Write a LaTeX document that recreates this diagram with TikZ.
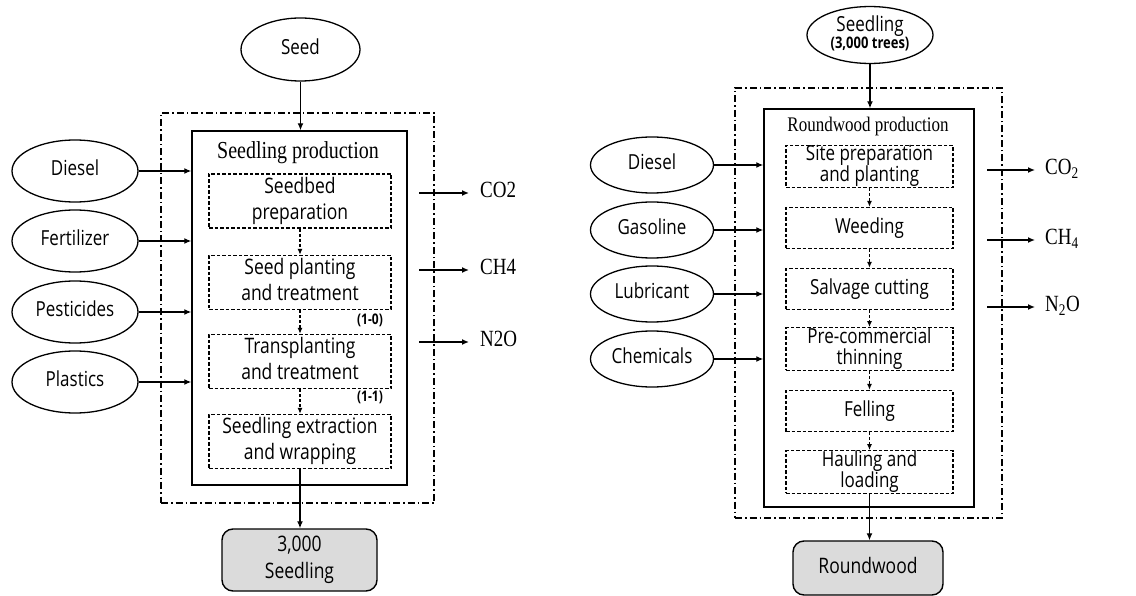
\documentclass[tikz,border=0pt]{standalone}
\usepackage{fontspec}
\usepackage{graphicx}
\setmainfont{Liberation Serif}
\setsansfont{Open Sans}
\usetikzlibrary{arrows.meta,shapes.geometric}
\newcommand\vt[1]{\scalebox{1}[1.22]{\begin{tabular}{@{}c@{}}#1\end{tabular}}}
\tikzset{
  src/.style={ellipse, draw, line width=1.3pt, inner sep=0pt, font=\sffamily\fontsize{17}{19}\selectfont},
  stepL/.style={draw, dash pattern=on 3.5pt off 2pt, line width=1.3pt, inner sep=0pt, minimum width=182pt, minimum height=54pt, align=center, font=\sffamily\fontsize{17.5}{21.5}\selectfont},
  stepR/.style={draw, dash pattern=on 3.5pt off 2pt, line width=1.3pt, inner sep=0pt, minimum width=167pt, minimum height=41pt, align=center, font=\sffamily\fontsize{17}{15}\selectfont},
  procbox/.style={draw, line width=1.4pt, inner sep=0pt},
  framebox/.style={draw, dash pattern=on 7pt off 3pt on 1.5pt off 3pt, line width=1.2pt, inner sep=0pt},
  arr/.style={-{Latex[length=7pt,width=6pt]}, line width=1.3pt},
  darr/.style={-{Latex[length=6pt,width=5pt]}, line width=1.2pt, dash pattern=on 3pt off 2pt},
  outbox/.style={draw, rounded corners=11pt, fill=gray!28, line width=1.4pt, inner sep=0pt, align=center, font=\sffamily\fontsize{17.5}{22}\selectfont},
  emis/.style={anchor=west, inner sep=0pt, font=\fontsize{19}{20}\selectfont},
  ttl/.style={inner sep=0pt, font=\fontsize{20}{20}\selectfont},
  tag/.style={inner sep=0pt, font=\sffamily\bfseries\fontsize{12}{12}\selectfont}
}
\begin{document}
\begin{tikzpicture}[x=1pt,y=-1pt]
\useasboundingbox (0,0) rectangle (1136,596);
% ---------------- Left diagram ----------------
\node[framebox, minimum width=273pt, minimum height=390pt] (frL) at (297.5,308) {};
\node[procbox, minimum width=215pt, minimum height=354pt] (inL) at (299.5,308) {};
\node[ttl] (tL) at (298,154) {\vt{Seedling production}};
\node[src, minimum width=119pt, minimum height=63pt] (seed) at (300.5,49.5) {\vt{Seed}};
\node[src, minimum width=126pt, minimum height=62pt] (dL) at (75,171) {\vt{Diesel}};
\node[src, minimum width=126pt, minimum height=62pt] (fL) at (75,241) {\vt{Fertilizer}};
\node[src, minimum width=126pt, minimum height=62pt] (pL) at (75,312) {\vt{Pesticides}};
\node[src, minimum width=126pt, minimum height=62pt] (plL) at (75,382) {\vt{Plastics}};
\node[stepL] (s1) at (300,201) {\vt{Seedbed\\preparation}};
\node[stepL] (s2) at (300,282.5) {\vt{Seed planting\\and treatment}};
\node[stepL] (s3) at (300,361.5) {\vt{Transplanting\\and treatment}};
\node[stepL] (s4) at (300,441.5) {\vt{Seedling extraction\\and wrapping}};
\node[tag] (t10) at (370,321) {\vt{(1-0)}};
\node[tag] (t11) at (370,398) {\vt{(1-1)}};
\node[outbox, minimum width=155pt, minimum height=62pt] (outL) at (299.5,560) {\vt{3,000\\Seedling}};
\draw[arr] (seed.south) -- (seed.south |- inL.north);
\foreach \n in {dL,fL,pL,plL} \draw[arr] (\n.east) -- (\n.east -| inL.west);
\draw[darr] (s1.south) -- (s2.north);
\draw[darr] (s2.south) -- (s3.north);
\draw[darr] (s3.south) -- (s4.north);
\draw[arr] (s4.south) -- (s4.south |- outL.north);
\node[emis] (co2L) at (480,193) {\vt{CO2}};
\node[emis] (ch4L) at (480,270) {\vt{CH4}};
\node[emis] (n2oL) at (480,342) {\vt{N2O}};
\coordinate (eL1) at (419,193);
\coordinate (eL2) at (419,270);
\coordinate (eL3) at (419,342);
\draw[arr] (eL1) -- ([xshift=-11pt]co2L.west);
\draw[arr] (eL2) -- ([xshift=-11pt]ch4L.west);
\draw[arr] (eL3) -- ([xshift=-11pt]n2oL.west);
% ---------------- Right diagram ----------------
\node[framebox, minimum width=267pt, minimum height=430pt] (frR) at (868.5,303) {};
\node[procbox, minimum width=210pt, minimum height=398pt] (inR) at (869,308) {};
\node[ttl, font=\fontsize{17}{18}\selectfont] (tR) at (868,127) {\vt{Roundwood production}};
\node[src, minimum width=126pt, minimum height=56pt, align=center] (sdl) at (870,35) {\vt{Seedling\\[-5pt]{\bfseries\fontsize{13}{13}\selectfont (3,000 trees)}}};
\node[src, minimum width=123pt, minimum height=56pt] (dR) at (652,165) {\vt{Diesel}};
\node[src, minimum width=123pt, minimum height=56pt] (gR) at (652,230) {\vt{Gasoline}};
\node[src, minimum width=123pt, minimum height=56pt] (lR) at (652,294) {\vt{Lubricant}};
\node[src, minimum width=123pt, minimum height=56pt] (cR) at (652,359) {\vt{Chemicals}};
\node[stepR] (r1) at (869.5,166.5) {\vt{Site preparation\\and planting}};
\node[stepR] (r2) at (869.5,228) {\vt{Weeding}};
\node[stepR] (r3) at (869.5,289) {\vt{Salvage cutting}};
\node[stepR] (r4) at (869.5,349) {\vt{Pre-commercial\\thinning}};
\node[stepR] (r5) at (869.5,411) {\vt{Felling}};
\node[stepR] (r6) at (869.5,472) {\vt{Hauling and\\loading}};
\node[outbox, minimum width=150pt, minimum height=54pt] (outR) at (868,568) {\vt{Roundwood}};
\draw[arr] (sdl.south) -- (sdl.south |- inR.north);
\foreach \n in {dR,gR,lR,cR} \draw[arr] (\n.east) -- (\n.east -| inR.west);
\draw[darr] (r1.south) -- (r2.north);
\draw[darr] (r2.south) -- (r3.north);
\draw[darr] (r3.south) -- (r4.north);
\draw[darr] (r4.south) -- (r5.north);
\draw[darr] (r5.south) -- (r6.north);
\draw[arr] (r6.south) -- (r6.south |- outR.north);
\node[emis] (co2R) at (1045,170) {\vt{CO\textsubscript{2}}};
\node[emis] (ch4R) at (1045,240) {\vt{CH\textsubscript{4}}};
\node[emis] (n2oR) at (1045,307) {\vt{N\textsubscript{2}O}};
\coordinate (eR1) at (987,170);
\coordinate (eR2) at (987,240);
\coordinate (eR3) at (987,307);
\draw[arr] (eR1) -- ([xshift=-10pt]co2R.west);
\draw[arr] (eR2) -- ([xshift=-10pt]ch4R.west);
\draw[arr] (eR3) -- ([xshift=-10pt]n2oR.west);
\end{tikzpicture}
\end{document}
